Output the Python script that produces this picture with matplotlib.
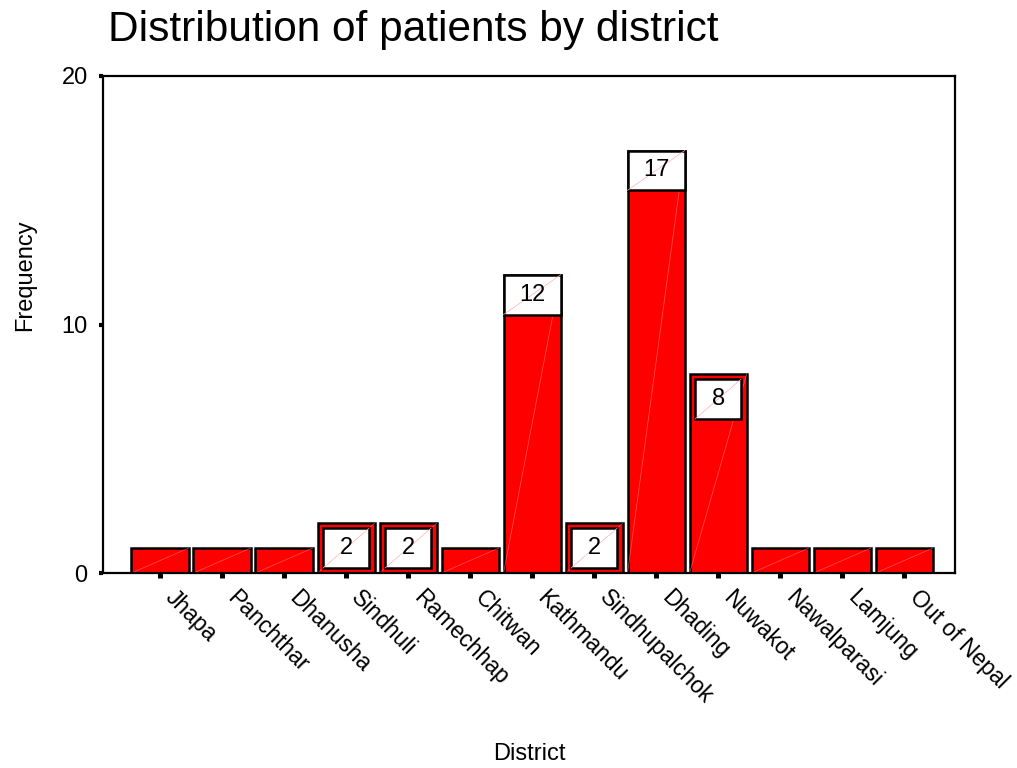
import matplotlib
matplotlib.use("Agg")
import matplotlib.pyplot as plt
import matplotlib.transforms as mtransforms
from matplotlib.patches import Rectangle

districts = ["Jhapa", "Panchthar", "Dhanusha", "Sindhuli", "Ramechhap", "Chitwan",
             "Kathmandu", "Sindhupalchok", "Dhading", "Nuwakot", "Nawalparasi",
             "Lamjung", "Out of Nepal"]
frequency = [1, 1, 1, 2, 2, 1, 12, 2, 17, 8, 1, 1, 1]
yticks = [0, 10, 20]

plt.rcParams['font.family'] = ['Liberation Sans', 'DejaVu Sans']

fig = plt.figure(figsize=(10.17, 7.68), dpi=100)
ax = fig.add_axes([103/1017, 1-573/768, (955-103)/1017, (573-76)/768])

x = list(range(len(districts)))
bw = 0.92
ax.bar(x, frequency, width=bw, color='#ff0000', edgecolor='black', linewidth=1.8, zorder=2)

# faint diagonal rendering artefacts inside bars
for xi, v in zip(x, frequency):
    ax.plot([xi - bw/2, xi + bw/2], [0, v], color='#ff9090', lw=0.5, alpha=0.6, zorder=2.5)

# value labels (boxes) for values > 1
for xi, v in zip(x, frequency):
    if v <= 1:
        continue
    h = 1.6
    if v >= 10:
        w = bw
        top = v
    else:
        w = 0.74
        top = v - 0.2
    ax.add_patch(Rectangle((xi - w/2, top - h), w, h, facecolor='white',
                           edgecolor='black', linewidth=1.8, zorder=3))
    ax.plot([xi - w/2, xi + w/2], [top - h, top], color='#ffb0b0', lw=0.5, zorder=3.5)
    ax.text(xi, top - h/2, str(v), ha='center', va='center', fontsize=17, zorder=4)

ax.set_xlim(-0.919, 12.82)
ax.set_ylim(0, 20)
ax.set_yticks(yticks)
ax.set_yticklabels([str(t) for t in yticks], fontsize=17)
ax.set_xticks(x)
ax.set_xticklabels([])

label_tr = ax.get_xaxis_transform() + mtransforms.ScaledTranslation(
    17/100, -13/100, fig.dpi_scale_trans)
for xi, name in zip(x, districts):
    ax.text(xi, 0, name, transform=label_tr, fontsize=16.5, rotation=-45,
            ha='left', va='top', rotation_mode='anchor', clip_on=False)

ax.tick_params(axis='x', direction='out', length=3.6, width=3.6, pad=6)
ax.tick_params(axis='y', direction='out', length=3.0, width=3.0, pad=8)
for sp in ax.spines.values():
    sp.set_linewidth(1.6)
    sp.set_color('black')

fig.text(108/1017, 1-41/768, "Distribution of patients by district", fontsize=30.5,
         ha='left', va='baseline')
fig.text(25/1017, 1-275/768, "Frequency", fontsize=17, rotation=90, ha='center', va='center')
fig.text(529/1017, 1-754/768, "District", fontsize=17, ha='center', va='center')

fig.savefig("out.png", dpi=100)
